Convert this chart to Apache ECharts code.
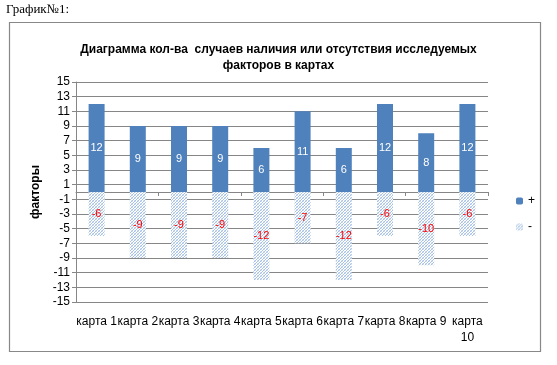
<!DOCTYPE html>
<html><head><meta charset="utf-8">
<script src="https://cdn.jsdelivr.net/npm/echarts@6/dist/echarts.min.js"></script>
<style>html,body{margin:0;padding:0;background:#fff}#c{width:557px;height:365px}</style>
</head><body><div id="c"></div>
<script>
const categories = ['карта 1','карта 2','карта 3','карта 4','карта 5','карта 6','карта 7','карта 8','карта 9','карта 10'];
const plusValues = [12, 9, 9, 9, 6, 11, 6, 12, 8, 12];
const minusValues = [-6, -9, -9, -9, -12, -7, -12, -6, -10, -6];
const yTicks = [-15,-13,-11,-9,-7,-5,-3,-1,1,3,5,7,9,11,13,15];

const pc = document.createElement('canvas');
pc.width = 3; pc.height = 3;
const g = pc.getContext('2d');
g.fillStyle = '#ffffff'; g.fillRect(0,0,3,3);
g.fillStyle = '#a8c2e4';
g.fillRect(2,0,1,1); g.fillRect(1,1,1,1); g.fillRect(0,2,1,1);
g.fillStyle = '#d6e2f2';
g.fillRect(0,0,1,1); g.fillRect(2,2,1,1);

const font = 'Liberation Sans, Arial, sans-serif';
const chart = echarts.init(document.getElementById('c'), null, {renderer:'canvas'});
chart.setOption({
  animation: false,
  title: {
    text: 'Диаграмма кол-ва  случаев наличия или отсутствия исследуемых\nфакторов в картах',
    left: 'center', top: 37,
    textStyle: {fontFamily: font, fontSize: 12, fontWeight: 'bold', color: '#000', lineHeight: 16}
  },
  graphic: [
    {type:'rect', shape:{x:9.5,y:22.5,width:531,height:329}, style:{fill:'none', stroke:'#888', lineWidth:1.2}, z:-10},
    {type:'text', left:6, top:3, style:{text:'График№1:', font:'13px "Liberation Serif", serif', fill:'#000'}}
  ],
  legend: {
    orient: 'vertical', left: 511, top: 190, itemWidth: 7, itemHeight: 7, itemGap: 14,
    textStyle: {fontFamily: font, fontSize: 12, color: '#000'},
    data: ['+', '-']
  },
  grid: {left: 76, right: 69, top: 82, bottom: 63},
  xAxis: [
    {type:'category', data: categories, position:'bottom',
     axisLine:{onZero:true, lineStyle:{color:'#868686'}},
     axisTick:{show:true, length:4, lineStyle:{color:'#868686'}},
     axisLabel:{show:false}, splitLine:{show:false}},
    {type:'category', data: categories, position:'bottom',
     axisLine:{show:false, onZero:false}, axisTick:{show:false},
     axisLabel:{interval:0, margin:12, fontFamily: font, fontSize: 12, color:'#000', lineHeight: 16,
       formatter: v => v === 'карта 10' ? 'карта\n10' : v}}
  ],
  yAxis: {
    type:'value', min:-15, max:15,
    name:'факторы', nameLocation:'middle', nameGap: 32,
    nameTextStyle:{fontFamily: font, fontSize: 12, fontWeight:'bold', color:'#000'},
    axisLine:{show:true, lineStyle:{color:'#868686'}},
    axisTick:{show:true, length:4, customValues: yTicks, lineStyle:{color:'#868686'}},
    axisLabel:{customValues: yTicks, fontFamily: font, fontSize: 12, color:'#000', margin: 6},
    splitLine:{show:true, lineStyle:{color:'#868686'}}
  },
  series: [
    {name:'+', type:'bar', stack:'s', data: plusValues, barWidth: 16,
     itemStyle:{color:'#4f81bd'},
     label:{show:true, position:'inside', color:'#fff', fontFamily: font, fontSize: 11}},
    {name:'-', type:'bar', stack:'s', data: minusValues, barWidth: 16,
     itemStyle:{color:{image: pc, repeat:'repeat'}},
     label:{show:true, position:'inside', color:'#ff0000', fontFamily: font, fontSize: 11}}
  ]
});
</script></body></html>
